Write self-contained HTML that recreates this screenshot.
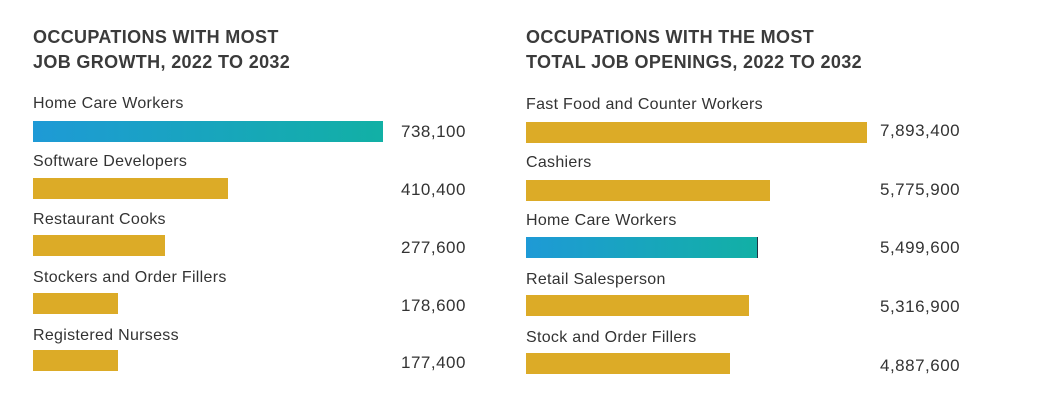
<!DOCTYPE html>
<html><head><style>
body{margin:0;width:1037px;height:403px;background:#fff;font-family:"Liberation Sans",sans-serif;color:#333;position:relative;overflow:hidden}
div{position:absolute;white-space:nowrap}
.t{font-weight:bold;font-size:18px;color:#3b3b3b;letter-spacing:0.35px;line-height:25px}
.l{font-size:16px;line-height:20px;letter-spacing:0.3px}
.v{font-size:17px;line-height:20px;letter-spacing:0.5px}
.b{height:21px;background:#dcab27}
.g{background:linear-gradient(90deg,#1e9ad6,#12b0a5)}
</style></head><body>
<div class="t" style="left:33px;top:25px">OCCUPATIONS WITH MOST<br>JOB GROWTH, 2022 TO 2032</div>
<div class="t" style="left:526px;top:25px">OCCUPATIONS WITH THE MOST<br>TOTAL JOB OPENINGS, 2022 TO 2032</div>

<div class="l" style="left:33px;top:94px">Home Care Workers</div>
<div class="b g" style="left:33px;top:121px;width:350px"></div>
<div class="v" style="left:401px;top:122px">738,100</div>
<div class="l" style="left:33px;top:152px">Software Developers</div>
<div class="b" style="left:33px;top:178px;width:195px"></div>
<div class="v" style="left:401px;top:180px">410,400</div>
<div class="l" style="left:33px;top:210px">Restaurant Cooks</div>
<div class="b" style="left:33px;top:235px;width:132px"></div>
<div class="v" style="left:401px;top:238px">277,600</div>
<div class="l" style="left:33px;top:268px">Stockers and Order Fillers</div>
<div class="b" style="left:33px;top:293px;width:85px"></div>
<div class="v" style="left:401px;top:296px">178,600</div>
<div class="l" style="left:33px;top:326px">Registered Nursess</div>
<div class="b" style="left:33px;top:350px;width:85px"></div>
<div class="v" style="left:401px;top:353px">177,400</div>

<div class="l" style="left:526px;top:95px">Fast Food and Counter Workers</div>
<div class="b" style="left:526px;top:122px;width:341px"></div>
<div class="v" style="left:880px;top:121px">7,893,400</div>
<div class="l" style="left:526px;top:153px">Cashiers</div>
<div class="b" style="left:526px;top:180px;width:244px"></div>
<div class="v" style="left:880px;top:180px">5,775,900</div>
<div class="l" style="left:526px;top:211px">Home Care Workers</div>
<div class="b g" style="left:526px;top:237px;width:231px;border-right:1px solid #234"></div>
<div class="v" style="left:880px;top:238px">5,499,600</div>
<div class="l" style="left:526px;top:270px">Retail Salesperson</div>
<div class="b" style="left:526px;top:295px;width:223px"></div>
<div class="v" style="left:880px;top:297px">5,316,900</div>
<div class="l" style="left:526px;top:328px">Stock and Order Fillers</div>
<div class="b" style="left:526px;top:353px;width:204px"></div>
<div class="v" style="left:880px;top:356px">4,887,600</div>
</body></html>
